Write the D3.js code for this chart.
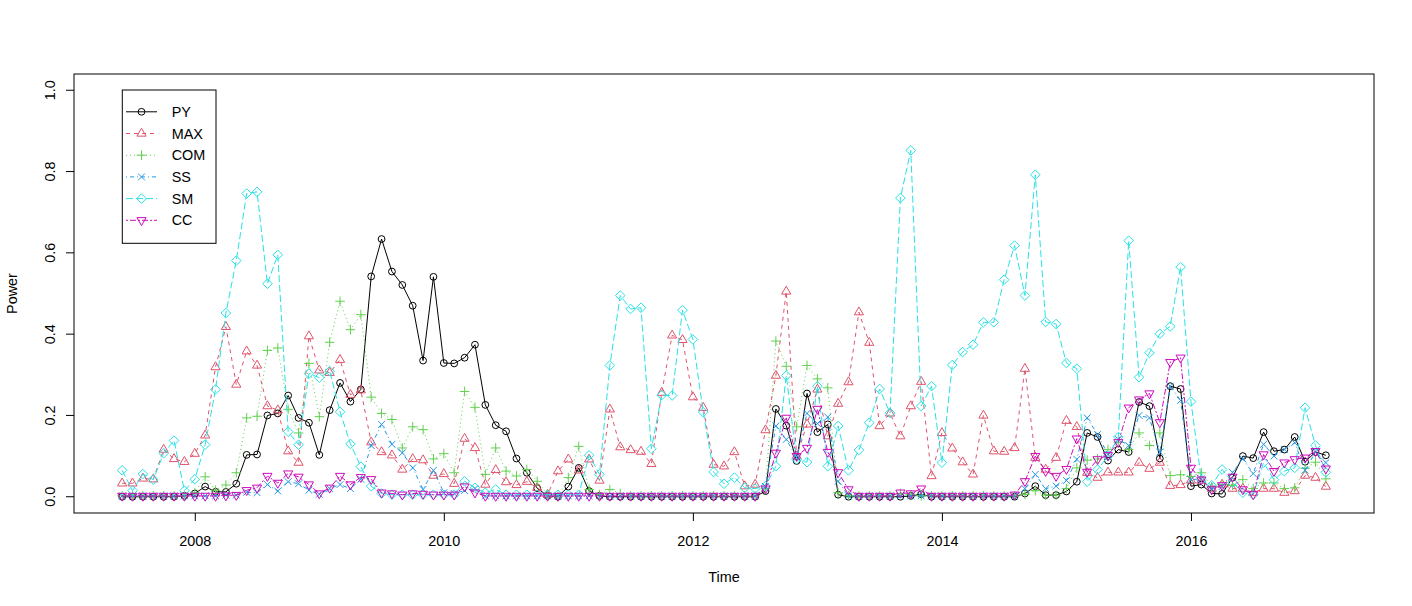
<!DOCTYPE html>
<html>
<head>
<meta charset="utf-8">
<script src="https://cdn.jsdelivr.net/npm/d3@7"></script>
<style>
  body { margin: 0; background: #fff; }
  svg { display: block; font-family: "Liberation Sans", Arial, Helvetica, sans-serif; }
</style>
</head>
<body>
<svg id="chart" width="1412" height="606"></svg>
<script>
// monthly series, June 2007 .. Feb 2017
const startYear = 2007 + 5 / 12;

const seriesNames = ["PY", "MAX", "COM", "SS", "SM", "CC"];

const py = [0,0,0,0,0,0,0.002,0.008,0.025,0.012,0.012,0.032,0.103,0.104,0.2,0.205,0.249,0.194,0.182,0.103,
  0.213,0.28,0.234,0.264,0.542,0.634,0.554,0.521,0.47,0.335,0.541,0.329,0.328,0.342,0.374,0.226,0.176,0.161,0.094,0.059,
  0.021,0.002,0,0.025,0.071,0.014,0.002,0,0,0,0,0,0,0,0,0,0,0,0,0,
  0,0,0.014,0.216,0.175,0.088,0.254,0.159,0.178,0.005,0,0,0,0,0,0,0.002,0.006,0,0,
  0,0,0,0,0,0,0,0.008,0.026,0.004,0.004,0.013,0.037,0.157,0.147,0.089,0.116,0.11,0.233,0.223,
  0.094,0.272,0.265,0.026,0.03,0.008,0.007,0.047,0.1,0.095,0.159,0.112,0.116,0.147,0.086,0.11,0.102];

const max = [0.033,0.033,0.045,0.043,0.116,0.093,0.086,0.106,0.151,0.319,0.418,0.276,0.358,0.323,0.223,0.213,0.112,0.084,0.395,0.311,
  0.305,0.337,0.251,0.262,0.134,0.11,0.102,0.067,0.093,0.09,0.052,0.056,0.032,0.143,0.12,0.03,0.066,0.036,0.029,0.037,
  0.022,0.005,0.063,0.092,0.065,0.092,0.04,0.215,0.122,0.115,0.111,0.081,0.256,0.397,0.386,0.245,0.219,0.079,0.075,0.11,
  0.026,0.03,0.164,0.298,0.505,0.1,0.178,0.264,0.149,0.229,0.282,0.454,0.379,0.174,0.205,0.149,0.223,0.283,0.051,0.157,
  0.119,0.085,0.055,0.2,0.112,0.111,0.12,0.315,0.096,0.067,0.096,0.187,0.172,0.059,0.047,0.06,0.06,0.06,0.084,0.069,
  0.084,0.027,0.029,0.04,0.04,0.02,0.03,0.02,0.02,0.01,0.02,0.02,0.01,0.014,0.052,0.047,0.025];

const com = [0.002,0.002,0.002,0.002,0.002,0.002,0.002,0.01,0.049,0.016,0.029,0.059,0.194,0.198,0.36,0.366,0.215,0.157,0.328,0.197,
  0.38,0.481,0.411,0.448,0.245,0.205,0.19,0.12,0.172,0.165,0.093,0.106,0.059,0.259,0.22,0.055,0.12,0.063,0.051,0.067,
  0.038,0.005,0,0.047,0.124,0.018,0.005,0.018,0.008,0.002,0.002,0.002,0.002,0.002,0.002,0.002,0.002,0.002,0.002,0.002,
  0.002,0.002,0.02,0.383,0.321,0.172,0.323,0.29,0.268,0.01,0.002,0.002,0.002,0.002,0.002,0.008,0.005,0.002,0.002,0.002,
  0.002,0.002,0.002,0.002,0.002,0.002,0.002,0.006,0.015,0.004,0.004,0.02,0.071,0.09,0.093,0.116,0.134,0.116,0.157,0.126,
  0.157,0.052,0.054,0.05,0.059,0.025,0.03,0.028,0.042,0.02,0.034,0.034,0.02,0.022,0.07,0.085,0.044];

const ss = [0.002,0.002,0.002,0.002,0.002,0.002,0.002,0.002,0.002,0.002,0.004,0.004,0.011,0.01,0.03,0.014,0.037,0.032,0.016,0.006,
  0.02,0.03,0.02,0.043,0.126,0.178,0.129,0.108,0.071,0.018,0.065,0.01,0.008,0.015,0.02,0.002,0.002,0.002,0.002,0.002,
  0.002,0.002,0.002,0.002,0.002,0.002,0.002,0.002,0.002,0.002,0.002,0.002,0.002,0.002,0.002,0.002,0.002,0.002,0.002,0.002,
  0.002,0.002,0.025,0.174,0.141,0.096,0.205,0.18,0.196,0.038,0.002,0.002,0.002,0.002,0.002,0.002,0.002,0.002,0.002,0.002,
  0.002,0.002,0.002,0.002,0.002,0.002,0.002,0.02,0.055,0.02,0.026,0.04,0.092,0.194,0.153,0.104,0.141,0.126,0.2,0.194,
  0.11,0.272,0.237,0.042,0.044,0.02,0.025,0.06,0.093,0.057,0.129,0.1,0.116,0.133,0.065,0.11,0.084];

const sm = [0.065,0.015,0.056,0.042,0.107,0.138,0.015,0.043,0.128,0.264,0.452,0.581,0.746,0.75,0.524,0.595,0.16,0.128,0.303,0.293,
  0.309,0.209,0.13,0.074,0.026,0.008,0.005,0.005,0.005,0.005,0.005,0.005,0.005,0.038,0.022,0.01,0.018,0.005,0.005,0.005,
  0.005,0.005,0.005,0.005,0.005,0.102,0.055,0.323,0.495,0.462,0.465,0.118,0.25,0.249,0.459,0.387,0.208,0.061,0.032,0.047,
  0.022,0.02,0.026,0.075,0.298,0.092,0.085,0.272,0.075,0.174,0.065,0.115,0.182,0.265,0.206,0.735,0.852,0.223,0.272,0.084,
  0.324,0.356,0.374,0.429,0.429,0.534,0.618,0.495,0.792,0.43,0.425,0.329,0.315,0.037,0.067,0.1,0.147,0.63,0.294,0.354,
  0.401,0.419,0.565,0.234,0.042,0.028,0.067,0.035,0.01,0.005,0.084,0.042,0.063,0.071,0.219,0.126,0.06];

const cc = [0.002,0.002,0.002,0.002,0.002,0.002,0.002,0.002,0.002,0.002,0.003,0.004,0.016,0.022,0.051,0.034,0.057,0.049,0.03,0.008,
  0.022,0.051,0.03,0.048,0.043,0.01,0.008,0.005,0.008,0.007,0.005,0.005,0.005,0.025,0.01,0.002,0.002,0.002,0.002,0.002,
  0.002,0.002,0.002,0.002,0.002,0.002,0.002,0.002,0.002,0.002,0.002,0.002,0.002,0.002,0.002,0.002,0.002,0.002,0.002,0.002,
  0.002,0.002,0.02,0.108,0.194,0.1,0.12,0.216,0.11,0.06,0.018,0.002,0.002,0.002,0.002,0.01,0.008,0.02,0.002,0.002,
  0.002,0.002,0.002,0.002,0.002,0.002,0.005,0.038,0.1,0.063,0.051,0.068,0.143,0.061,0.092,0.102,0.134,0.219,0.239,0.254,
  0.183,0.331,0.342,0.071,0.042,0.018,0.028,0.049,0.018,0.006,0.104,0.063,0.084,0.092,0.096,0.112,0.069];

const xTicks = [2008, 2010, 2012, 2014, 2016];
const yTicks = [0, 0.2, 0.4, 0.6, 0.8, 1.0];

const seriesData = [py, max, com, ss, sm, cc];
const colors = ["#000000", "#DF536B", "#61D04F", "#2297E6", "#28E2E5", "#CD0BBC"];
const dashes = [null, "4,4", "1,3", "1,3,4,3", "7,3", "2,2,6,2"];

// R pch 1..6
const R = 3.4;
function symbolPath(k, x, y) {
  const tr = 1.5551 * R, tw = 1.3468 * R, tb = 0.7776 * R, d = Math.SQRT2 * R;
  switch (k) {
    case 0: return `M${x - R},${y}a${R},${R} 0 1,0 ${2 * R},0a${R},${R} 0 1,0 ${-2 * R},0`;
    case 1: return `M${x},${y - tr}L${x + tw},${y + tb}L${x - tw},${y + tb}Z`;
    case 2: return `M${x - d},${y}H${x + d}M${x},${y - d}V${y + d}`;
    case 3: return `M${x - R},${y - R}L${x + R},${y + R}M${x - R},${y + R}L${x + R},${y - R}`;
    case 4: return `M${x},${y - d}L${x + d},${y}L${x},${y + d}L${x - d},${y}Z`;
    default: return `M${x},${y + tr}L${x + tw},${y - tb}L${x - tw},${y - tb}Z`;
  }
}

function drawChart() {
  const svg = d3.select("#chart");
  const left = 74, right = 1374, top = 74, bottom = 513;
  const fontSize = "14.4px";

  const n = py.length;
  const t0 = startYear, t1 = startYear + (n - 1) / 12;
  const pad = 0.04 * (t1 - t0);

  const x = d3.scaleLinear().domain([t0 - pad, t1 + pad]).range([left, right]);
  const y = d3.scaleLinear().domain([-0.04, 1.04]).range([bottom, top]);

  // series: lines then points, in order
  seriesData.forEach((vals, k) => {
    const pts = vals.map((v, i) => [x(t0 + i / 12), y(v)]);
    const g = svg.append("g");
    g.append("path")
      .attr("d", d3.line()(pts))
      .attr("fill", "none")
      .attr("stroke", colors[k])
      .attr("stroke-width", 1)
      .attr("stroke-dasharray", dashes[k]);
    g.append("path")
      .attr("d", pts.map(p => symbolPath(k, p[0], p[1])).join(""))
      .attr("fill", "none")
      .attr("stroke", colors[k])
      .attr("stroke-width", 1);
  });

  // box
  svg.append("rect")
    .attr("x", left).attr("y", top)
    .attr("width", right - left).attr("height", bottom - top)
    .attr("fill", "none").attr("stroke", "#000").attr("stroke-width", 1);

  // x axis
  const xAxis = svg.append("g")
    .attr("transform", `translate(0,${bottom})`)
    .call(d3.axisBottom(x).tickValues(xTicks).tickFormat(d3.format("d")).tickSize(8).tickPadding(15));
  xAxis.select(".domain").remove();
  xAxis.selectAll("text").style("font-size", fontSize).attr("fill", "#000").style("font-family", "inherit");

  // y axis (labels parallel to axis, like R)
  const yAxis = svg.append("g");
  yTicks.forEach(v => {
    yAxis.append("line")
      .attr("x1", left - 8).attr("x2", left)
      .attr("y1", y(v)).attr("y2", y(v))
      .attr("stroke", "#000");
    yAxis.append("text")
      .attr("transform", `translate(55,${y(v)}) rotate(-90)`)
      .attr("text-anchor", "middle")
      .style("font-size", fontSize)
      .text(d3.format(".1f")(v));
  });

  svg.append("text")
    .attr("x", (left + right) / 2).attr("y", 582)
    .attr("text-anchor", "middle")
    .style("font-size", fontSize)
    .text("Time");

  svg.append("text")
    .attr("transform", `translate(17,${(top + bottom) / 2}) rotate(-90)`)
    .attr("text-anchor", "middle")
    .style("font-size", fontSize)
    .text("Power");

  // legend
  const legend = svg.append("g");
  legend.append("rect")
    .attr("x", 122.3).attr("y", 90)
    .attr("width", 93.7).attr("height", 153.3)
    .attr("fill", "#fff").attr("stroke", "#000");
  seriesNames.forEach((name, k) => {
    const ly = 111.8 + k * 21.7;
    legend.append("line")
      .attr("x1", 126).attr("x2", 157)
      .attr("y1", ly).attr("y2", ly)
      .attr("stroke", colors[k])
      .attr("stroke-dasharray", dashes[k]);
    legend.append("path")
      .attr("d", symbolPath(k, 141.5, ly))
      .attr("fill", "none")
      .attr("stroke", colors[k]);
    legend.append("text")
      .attr("x", 171.7).attr("y", ly)
      .attr("dy", "0.36em")
      .style("font-size", fontSize)
      .text(name);
  });
}

drawChart();
</script>
</body>
</html>
